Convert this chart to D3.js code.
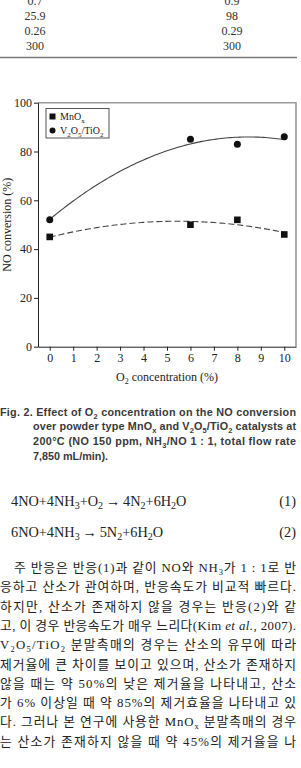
<!DOCTYPE html>
<html>
<head>
  <meta charset="utf-8">
  <title>Effect of O2 concentration on NO conversion</title>
  <script src="https://cdn.jsdelivr.net/npm/d3@7/dist/d3.min.js"></script>
  <style>
    body { margin: 0; background: #fff; }
    svg { display: block; }
  </style>
</head>
<body>
<script>
// data
var o2 = [0, 6, 8, 10];
var mnox = [45, 50, 52, 46];
var v2o5 = [52, 85, 83, 86];
var xTicks = [0, 1, 2, 3, 4, 5, 6, 7, 8, 9, 10];
var yTicks = [0, 20, 40, 60, 80, 100];

// table remnant at the top of the page
var tableLeft = ["0.7", "25.9", "0.26", "300"];
var tableRight = ["0.9", "98", "0.29", "300"];

var caption = [
  "Fig. 2. Effect of O_{2} concentration on the NO conversion",
  "over powder type MnO_{x} and V_{2}O_{5}/TiO_{2} catalysts at",
  "200°C (NO 150 ppm, NH_{3}/NO 1 : 1, total flow rate",
  "7,850 mL/min)."
];
var equations = [
  ["4NO+4NH_{3}+O_{2}\u2009→\u20094N_{2}+6H_{2}O", "(1)"],
  ["6NO+4NH_{3}\u2009→\u20095N_{2}+6H_{2}O", "(2)"]
];
var para = [
  "주 반응은 반응(1)과 같이 NO와 NH_{3}가 1 : 1로 반",
  "응하고 산소가 관여하며, 반응속도가 비교적 빠르다.",
  "하지만, 산소가 존재하지 않을 경우는 반응(2)와 같",
  "고, 이 경우 반응속도가 매우 느리다(Kim ~{et al.}, 2007).",
  "V_{2}O_{5}/TiO_{2} 분말촉매의 경우는 산소의 유무에 따라",
  "제거율에 큰 차이를 보이고 있으며, 산소가 존재하지",
  "않을 때는 약 50%의 낮은 제거율을 나타내고, 산소",
  "가 6% 이상일 때 약 85%의 제거효율을 나타내고 있",
  "다. 그러나 본 연구에 사용한 MnO_{x} 분말촉매의 경우",
  "는 산소가 존재하지 않을 때 약 45%의 제거율을 나"
];

var W = 301, H = 768;
var serif = "'Liberation Serif', 'Times New Roman', serif";
var korean = "'Liberation Serif', 'Noto Sans CJK KR', serif";
var sans = "'Liberation Sans', Arial, sans-serif";

var svg = d3.select("body").append("svg").attr("width", W).attr("height", H);

// write a string with _{sub} and ~{italic} parts into a text element
function rich(t, str, sub) {
  var parts = str.split(/(_\{[^}]*\}|~\{[^}]*\})/);
  var shifted = false;
  parts.forEach(function(p) {
    if (!p) return;
    var ts = t.append("tspan");
    if (p.indexOf("_{") == 0) {
      ts.text(p.slice(2, -1)).attr("font-size", sub).attr("dy", shifted ? 0 : 3);
      shifted = true;
    } else {
      if (p.indexOf("~{") == 0) { ts.text(p.slice(2, -1)).attr("font-style", "italic"); }
      else ts.text(p);
      if (shifted) { ts.attr("dy", -3); shifted = false; }
    }
  });
  return t;
}

// ---- table remnant
tableLeft.forEach(function(d, i) {
  svg.append("text").attr("x", 35).attr("y", 4.5 + i * 15).attr("text-anchor", "middle")
    .attr("font-family", serif).attr("font-size", 12).attr("fill", "#333").text(d);
  svg.append("text").attr("x", 232).attr("y", 4.5 + i * 15).attr("text-anchor", "middle")
    .attr("font-family", serif).attr("font-size", 12).attr("fill", "#333").text(tableRight[i]);
});
svg.append("line").attr("x1", 0).attr("x2", 297).attr("y1", 57.5).attr("y2", 57.5)
  .attr("stroke", "#777").attr("stroke-width", 1.3);

// ---- chart
var x = d3.scaleLinear().domain([-0.5, 10.5]).range([38, 296]);
var y = d3.scaleLinear().domain([0, 100]).range([346.7, 102.7]);

// top and right frame in grey
svg.append("path")
  .attr("d", "M" + x(-0.5) + "," + y(100) + "H" + x(10.5) + "V" + y(0))
  .attr("fill", "none").attr("stroke", "#999").attr("stroke-width", 1.6);

var yAxis = svg.append("g").attr("transform", "translate(" + x(-0.5) + ",0)")
  .call(d3.axisLeft(y).tickValues(yTicks).tickSize(4).tickPadding(2).tickSizeOuter(0));
var xAxis = svg.append("g").attr("transform", "translate(0," + y(0) + ")")
  .call(d3.axisBottom(x).tickValues(xTicks).tickSize(4).tickPadding(3).tickSizeOuter(0));
[yAxis, xAxis].forEach(function(g) {
  g.attr("font-family", serif).attr("font-size", 12);
  g.selectAll("text").attr("fill", "#222");
  g.selectAll("line").attr("stroke", "#222");
  g.select(".domain").attr("stroke", "#222");
});

// quadratic least squares trend for each series
function quadFit(xs, ys) {
  var s = [0, 0, 0, 0, 0], t = [0, 0, 0];
  xs.forEach(function(xv, i) {
    for (var k = 0; k < 5; k++) s[k] += Math.pow(xv, k);
    for (var k = 0; k < 3; k++) t[k] += ys[i] * Math.pow(xv, k);
  });
  var m = [[s[0], s[1], s[2], t[0]], [s[1], s[2], s[3], t[1]], [s[2], s[3], s[4], t[2]]];
  for (var i = 0; i < 3; i++) {
    for (var j = i + 1; j < 3; j++) {
      var f = m[j][i] / m[i][i];
      for (var k = i; k < 4; k++) m[j][k] -= f * m[i][k];
    }
  }
  var c = [0, 0, 0];
  for (var i = 2; i >= 0; i--) {
    var v = m[i][3];
    for (var k = i + 1; k < 3; k++) v -= m[i][k] * c[k];
    c[i] = v / m[i][i];
  }
  return function(xv) { return c[0] + c[1] * xv + c[2] * xv * xv; };
}

var line = d3.line().x(function(d) { return x(d[0]); }).y(function(d) { return y(d[1]); });
var xs = d3.range(0, 10.01, 0.1);
var fitV = quadFit(o2, v2o5), fitM = quadFit(o2, mnox);

svg.append("path").attr("d", line(xs.map(function(v) { return [v, fitV(v)]; })))
  .attr("fill", "none").attr("stroke", "#444").attr("stroke-width", 1.1);
svg.append("path").attr("d", line(xs.map(function(v) { return [v, fitM(v)]; })))
  .attr("fill", "none").attr("stroke", "#444").attr("stroke-width", 1.1)
  .attr("stroke-dasharray", "6,3");

svg.selectAll("rect.mn").data(o2).enter().append("rect").attr("class", "mn")
  .attr("x", function(d) { return x(d) - 3.3; })
  .attr("y", function(d, i) { return y(mnox[i]) - 3.3; })
  .attr("width", 6.6).attr("height", 6.6).attr("fill", "#111");
svg.selectAll("circle.v").data(o2).enter().append("circle").attr("class", "v")
  .attr("cx", function(d) { return x(d); })
  .attr("cy", function(d, i) { return y(v2o5[i]); })
  .attr("r", 3.5).attr("fill", "#111");

// legend
var lg = svg.append("g").attr("transform", "translate(46,108.5)");
lg.append("rect").attr("width", 63).attr("height", 29.5).attr("fill", "#fff")
  .attr("stroke", "#555").attr("stroke-width", 1);
lg.append("rect").attr("x", 3.5).attr("y", 5).attr("width", 6).attr("height", 6).attr("fill", "#111");
lg.append("circle").attr("cx", 6.5).attr("cy", 22).attr("r", 3).attr("fill", "#111");
rich(lg.append("text").attr("x", 14).attr("y", 11.5).attr("font-family", serif)
  .attr("font-size", 10).attr("fill", "#222"), "MnO_{x}", 7);
rich(lg.append("text").attr("x", 14).attr("y", 25.5).attr("font-family", serif)
  .attr("font-size", 10).attr("fill", "#222"), "V_{2}O_{5}/TiO_{2}", 7);

// axis titles
svg.append("text").attr("transform", "translate(11," + y(50) + ") rotate(-90)")
  .attr("text-anchor", "middle").attr("font-family", serif).attr("font-size", 12)
  .attr("fill", "#222").text("NO conversion (%)");
rich(svg.append("text").attr("x", x(5)).attr("y", 381).attr("text-anchor", "middle")
  .attr("font-family", serif).attr("font-size", 12).attr("fill", "#222"),
  "O_{2} concentration (%)", 8);

// ---- caption
caption.forEach(function(c, i) {
  var t = svg.append("text").attr("x", i == 0 ? 0 : 33).attr("y", 415.5 + i * 14.8)
    .attr("font-family", sans).attr("font-weight", "bold").attr("font-size", 10.8)
    .attr("fill", "#3a3a3a");
  rich(t, c, 7.5);
  if (i < 3) t.attr("textLength", i == 0 ? 296 : 263).attr("lengthAdjust", "spacing");
});

// ---- equations
equations.forEach(function(e, i) {
  rich(svg.append("text").attr("x", 11).attr("y", 506 + i * 31).attr("font-family", serif)
    .attr("font-size", 14.3).attr("fill", "#222"), e[0], 10);
  svg.append("text").attr("x", 296).attr("y", 506 + i * 31).attr("text-anchor", "end")
    .attr("font-family", serif).attr("font-size", 14.3).attr("fill", "#222").text(e[1]);
});

// ---- Korean paragraph
para.forEach(function(p, i) {
  var t = svg.append("text").attr("x", i == 0 ? 14 : 0).attr("y", 572 + i * 19.3)
    .attr("font-family", korean).attr("font-size", 12.8).attr("fill", "#222");
  rich(t, p, 8.5);
  t.attr("textLength", i == 0 ? 282 : 296).attr("lengthAdjust", "spacing");
});
</script>
</body>
</html>
